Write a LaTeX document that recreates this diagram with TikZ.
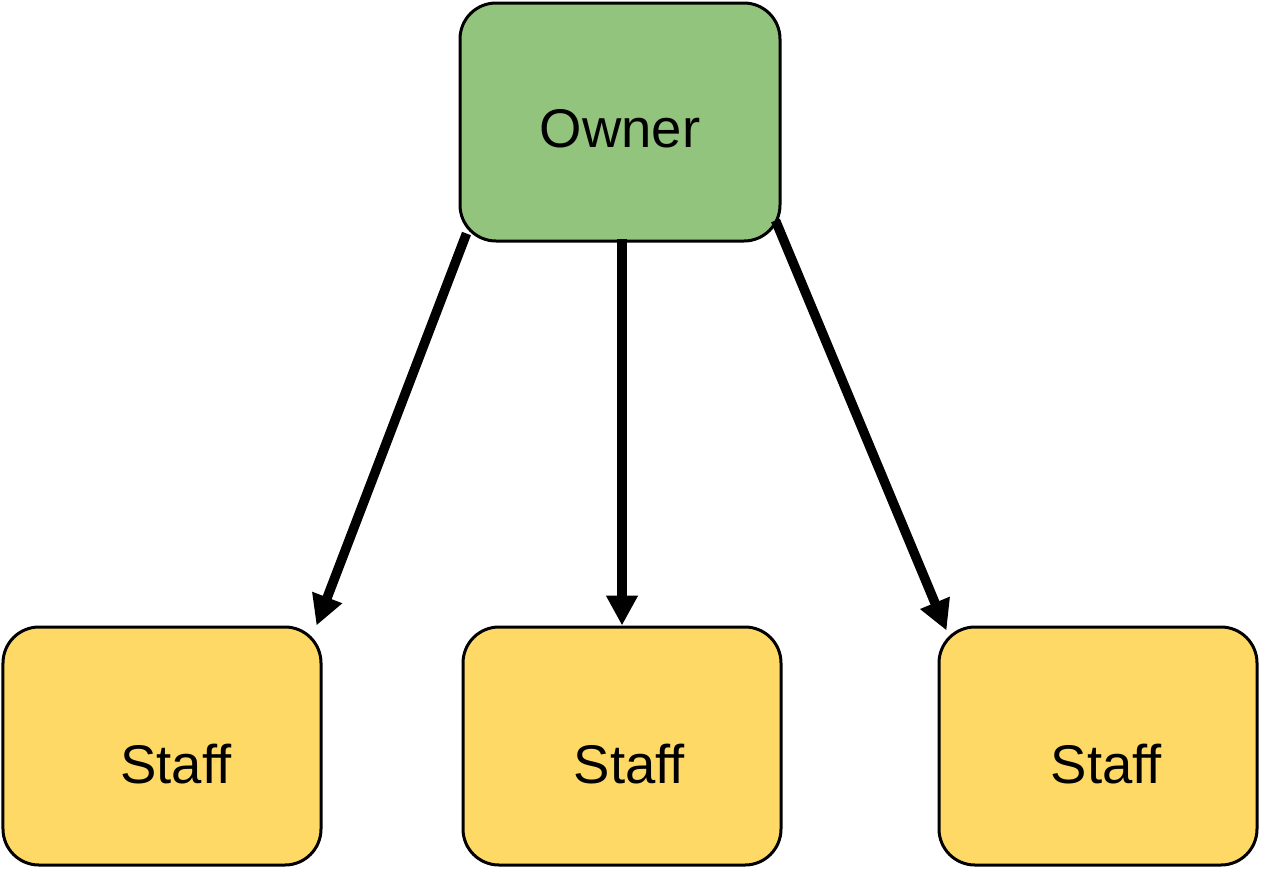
\documentclass[tikz,border=0pt]{standalone}
\usepackage{fontspec}
\setmainfont[Ligatures=NoCommon]{Liberation Sans}
\usetikzlibrary{positioning, arrows.meta}

\definecolor{ownergreen}{HTML}{93C47D}
\definecolor{staffyellow}{HTML}{FFD966}

\begin{document}
\begin{tikzpicture}[box/.style={draw,rounded corners=0.72cm,line width=0.06cm,minimum width=6.36cm,minimum height=4.76cm},
    owner node/.style={box,fill=ownergreen,minimum width=6.4cm},
    staff node/.style={box,fill=staffyellow},
    box text/.style={font=\fontsize{31}{36}\selectfont},
    link/.style={-{Triangle[length=0.6cm,width=0.6cm]},line width=0.19cm}]

\useasboundingbox (0,0) rectangle (25.22,-17.4);

\node[owner node, label={[box text,yshift=-0.14cm]center:Owner}]  (owner)  at (12.4,-2.44) {};
\node[staff node, label={[box text,xshift=0.15cm,yshift=-0.36cm]center:Staff}] (staffM) [below=7.66cm of owner, xshift=0.04cm] {};
\node[staff node, label={[box text,xshift=0.28cm,yshift=-0.36cm]center:Staff}] (staffL) [left=2.78cm of staffM]  {};
\node[staff node, label={[box text,xshift=0.17cm,yshift=-0.36cm]center:Staff}] (staffR) [right=3.1cm of staffM] {};

\draw[link] ([shift={(0.16cm,0.18cm)}]owner.south west) -- ([xshift=-0.12cm]staffL.north east);
\draw[link] ([yshift=0.08cm]owner.south -| staffM.north) -- (staffM.north);
\draw[link] ([shift={(-0.12cm,0.44cm)}]owner.south east) -- ([shift={(0.18cm,-0.1cm)}]staffR.north west);
\end{tikzpicture}
\end{document}
